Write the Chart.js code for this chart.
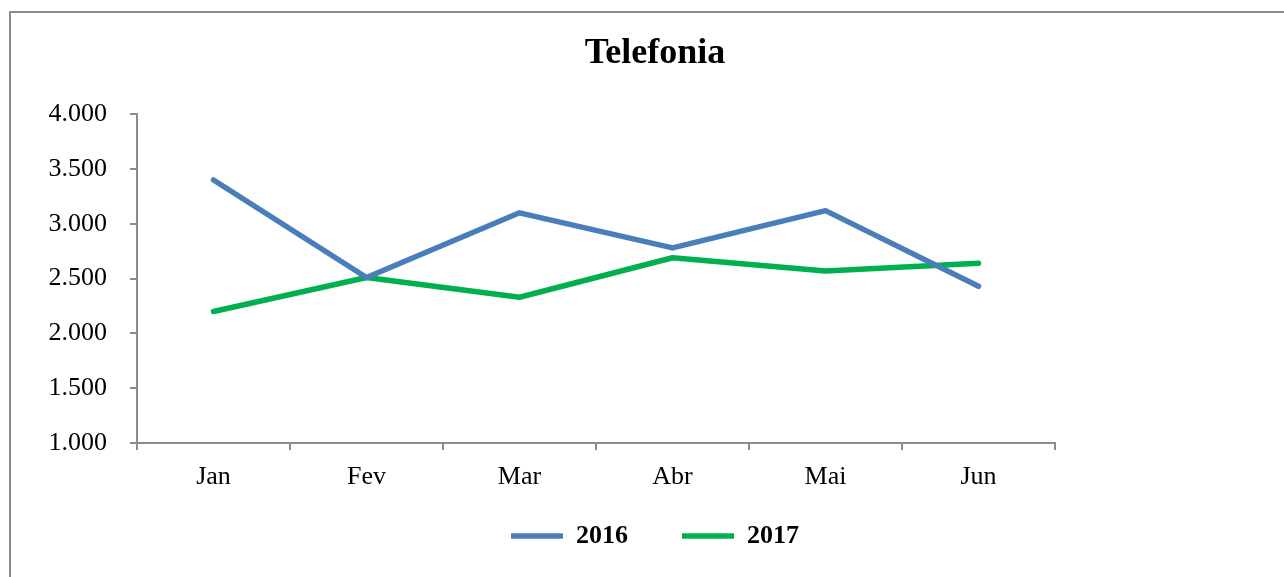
<!DOCTYPE html>
<html>
<head>
<meta charset="utf-8">
<script src="https://cdn.jsdelivr.net/npm/chart.js@4.4.1/dist/chart.umd.min.js"></script>
<style>
    html, body { margin: 0; padding: 0; background: #fff; overflow: hidden; }
    #wrap { position: relative; width: 1284px; height: 577px; }
    #frame {
        position: absolute; left: 9px; top: 11px;
        width: 1400px; height: 700px;
        border: 2px solid #8c8c8c;
    }
    #chart { position: absolute; left: 0; top: 0; }
</style>
</head>
<body>
<div id="wrap">
    <div id="frame"></div>
    <canvas id="chart" width="1284" height="577"></canvas>
</div>
<script>
// Chart data
const months = ['Jan', 'Fev', 'Mar', 'Abr', 'Mai', 'Jun'];
const sales2016 = [3400, 2510, 3100, 2780, 3120, 2430];
const sales2017 = [2200, 2510, 2330, 2690, 2570, 2640];
const yMin = 1000;
const yMax = 4000;
const yStep = 500;

const serif = 'Liberation Serif, Times New Roman, serif';
const axisGray = '#8c8c8c';

// 4000 -> "4.000"
function formatThousands(value) {
    return String(value).replace(/\B(?=(\d{3})+(?!\d))/g, '.');
}

// the legend uses a wide item gap, so pull it up closer to the axis labels
const legendLift = {
    id: 'legendLift',
    beforeDraw(chart) {
        const legend = chart.legend;
        if (!legend) return;
        const shift = legend.top - 469;
        legend.top -= shift;
        legend.bottom -= shift;
    }
};

const ctx = document.getElementById('chart').getContext('2d');

new Chart(ctx, {
    type: 'line',
    data: {
        labels: months,
        datasets: [
            {
                label: '2016',
                data: sales2016,
                borderColor: '#4a7ebb',
                backgroundColor: '#4a7ebb',
                borderWidth: 5.5,
                borderCapStyle: 'round',
                borderJoinStyle: 'round',
                pointRadius: 0,
                tension: 0
            },
            {
                label: '2017',
                data: sales2017,
                borderColor: '#00b050',
                backgroundColor: '#00b050',
                borderWidth: 5.5,
                borderCapStyle: 'round',
                borderJoinStyle: 'round',
                pointRadius: 0,
                tension: 0
            }
        ]
    },
    plugins: [legendLift],
    options: {
        responsive: false,
        animation: false,
        devicePixelRatio: 1,
        layout: {
            padding: { left: 26, right: 0, top: 0, bottom: -6 }
        },
        plugins: {
            title: {
                display: true,
                text: 'Telefonia',
                color: '#000',
                font: { family: serif, size: 36, weight: 'bold' },
                padding: { top: 32, bottom: 39 }
            },
            legend: {
                display: true,
                position: 'bottom',
                labels: {
                    color: '#000',
                    font: { family: serif, size: 26, weight: 'bold' },
                    usePointStyle: true,
                    pointStyle: 'line',
                    pointStyleWidth: 52,
                    padding: 54
                }
            },
            tooltip: { enabled: false }
        },
        scales: {
            x: {
                offset: true,
                grid: {
                    offset: true,
                    drawOnChartArea: false,
                    color: axisGray,
                    lineWidth: 2,
                    tickLength: 7
                },
                border: { color: axisGray, width: 2 },
                ticks: {
                    color: '#000',
                    font: { family: serif, size: 26 },
                    padding: 12
                },
                afterFit: function(scale) {
                    scale.height = 50;
                }
            },
            y: {
                min: yMin,
                max: yMax,
                grid: {
                    drawOnChartArea: false,
                    color: axisGray,
                    lineWidth: 2,
                    tickLength: 7
                },
                border: { color: axisGray, width: 2 },
                ticks: {
                    stepSize: yStep,
                    color: '#000',
                    font: { family: serif, size: 26 },
                    padding: 23,
                    callback: function(value) {
                        return formatThousands(value);
                    }
                },
                afterFit: function(scale) {
                    scale.width = 111;
                }
            },
            yRight: {
                type: 'linear',
                position: 'right',
                display: true,
                grid: { display: false },
                border: { display: false },
                ticks: { display: false },
                afterFit: function(scale) {
                    scale.width = 229;
                }
            }
        }
    }
});
</script>
</body>
</html>
